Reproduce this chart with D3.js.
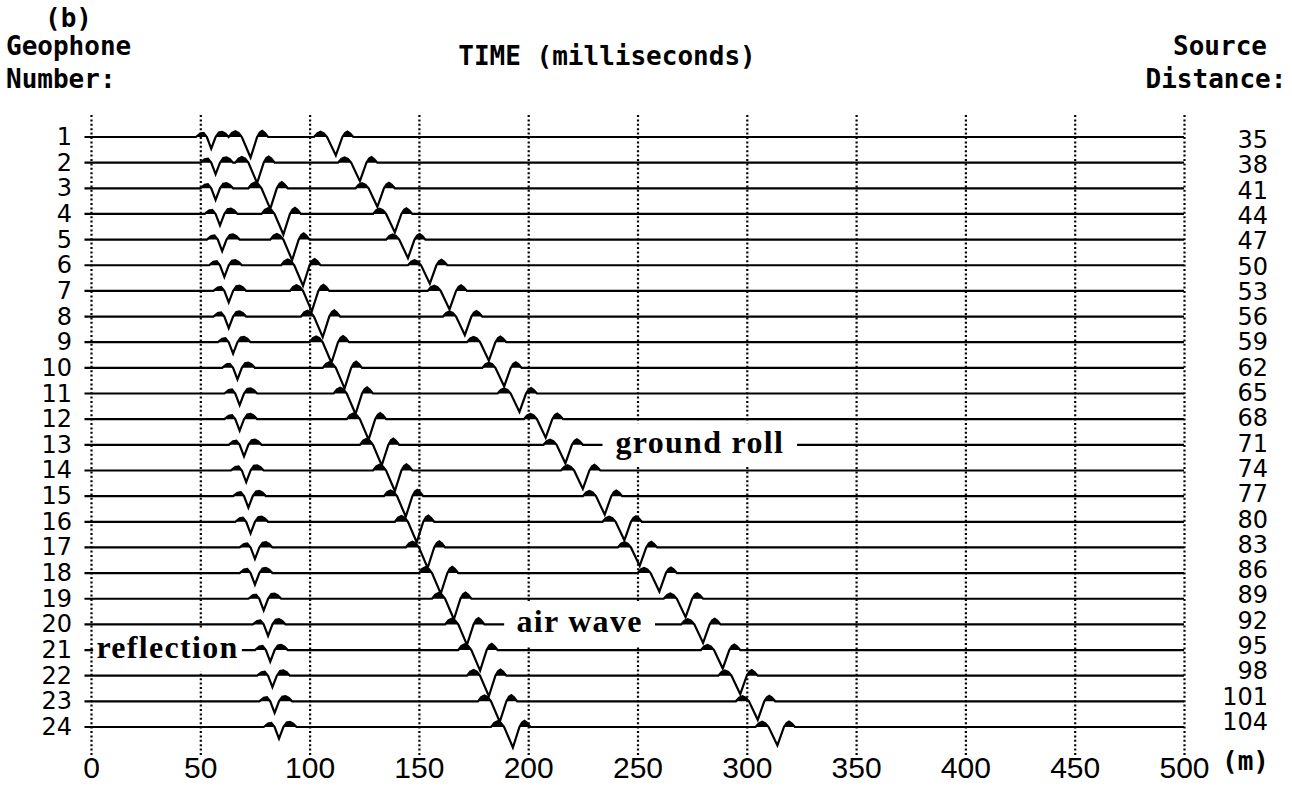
<!DOCTYPE html>
<meta charset="utf-8">
<script src="https://d3js.org/d3.v7.min.js"></script>
<style>
  body { margin: 0; background: #fff; }
  .hdr { font-family: "DejaVu Sans Mono", monospace; font-weight: bold; font-size: 26px; fill: #000; }
  .num { font-family: "DejaVu Sans", sans-serif; font-size: 24px; fill: #000; }
  .ann { font-family: "Liberation Serif", serif; font-weight: bold; font-size: 32px; letter-spacing: 1.3px; fill: #000; }
</style>
<div id="my_dataviz"></div>
<script>

// geophone numbers (rows) and source distances (m)
var geophones = [1,2,3,4,5,6,7,8,9,10,11,12,13,14,15,16,17,18,19,20,21,22,23,24];
var distances = [35,38,41,44,47,50,53,56,59,62,65,68,71,74,77,80,83,86,89,92,95,98,101,104];
var timeTicks = [0,50,100,150,200,250,300,350,400,450,500];

// trough time (ms) of each event on each trace
var reflectionTime = [55,57,57,59,60,61,63,63,65,67,68,68,70,71,72,73,75,75,79,81,82,83,84,86];
var airWaveTime    = [73,76,82,88,92,97,101,106,110,116,121,127,133,139,144,149,154,160,166,172,178,182,187,193];
var groundRollTime = [112,123,131,139,145,155,164,171,182,189,196,208,217,225,235,244,251,260,272,280,289,297,305,314];

// relative trough amplitude of each event (1 = one trace spacing)
var eventAmp = {reflection: 0.45, air: 0.8, ground: 0.72};

// wavelet shapes: [time offset ms, relative amplitude]
var smallWavelet = [[-7,0],[-5,0.3],[-3.5,0.35],[-2,0],[0,-1],[2,0],[3.5,0.4],[5,0.45],[6.5,0.3],[8,0]];
var bigWavelet   = [[-10,0],[-8.5,0.2],[-7,0.28],[-5.5,0.2],[-4,0],[0,-1],[3,0],[4.2,0.22],[5.3,0.3],[6.5,0.2],[8,0]];

// annotation labels: text, trace, time span of the break in the trace
var annText  = ["ground roll", "air wave", "reflection"];
var annTrace = [13, 20, 21];
var annFrom  = [234, 189, 1];
var annTo    = [323, 258, 69];

var W = 1292, H = 793;
var svg = d3.select("#my_dataviz").append("svg")
    .attr("width", W).attr("height", H);

var x = d3.scaleLinear().domain([0, 500]).range([91, 1184]);
var y = d3.scalePoint().domain(geophones).range([137, 727]);
var spacing = y.step();
var amp = d3.scaleLinear().domain([0, 1]).range([0, -spacing]);

// dotted vertical grid + time labels
var gridTop = 113, gridBottom = 755;
var xAxis = svg.append("g")
    .attr("transform", "translate(0," + gridBottom + ")")
    .call(d3.axisBottom(x).tickValues(timeTicks).tickSize(-(gridBottom - gridTop)).tickPadding(2));
xAxis.select(".domain").remove();
xAxis.selectAll(".tick line")
    .attr("stroke", "#000").attr("stroke-width", 2.2).attr("stroke-dasharray", "2,2.4");
xAxis.selectAll(".tick text")
    .attr("fill", "#000")
    .style("font-family", "'Liberation Sans', sans-serif")
    .style("font-size", "30px");

// traces
var line = d3.line().x(function(d) { return x(d[0]); }).y(function(d) { return d[1]; });
var area = d3.area().x(function(d) { return x(d[0]); })
    .y0(function(d) { return d[2]; })
    .y1(function(d) { return Math.min(d[1], d[2]); });

geophones.forEach(function(g, i) {
  var base = y(g);
  var events = [
    {t: reflectionTime[i], a: eventAmp.reflection, w: smallWavelet},
    {t: airWaveTime[i],    a: eventAmp.air,        w: bigWavelet},
    {t: groundRollTime[i], a: eventAmp.ground,     w: bigWavelet}
  ];
  var pts = [[-3, base, base]];
  events.forEach(function(e) {
    e.w.forEach(function(p) {
      pts.push([e.t + p[0], base + amp(p[1] * e.a), base]);
    });
  });
  pts.push([500, base, base]);
  pts.sort(function(a, b) { return a[0] - b[0]; });

  svg.append("path").datum(pts)
    .attr("d", area).attr("fill", "#000");
  svg.append("path").datum(pts)
    .attr("d", line).attr("fill", "none")
    .attr("stroke", "#000").attr("stroke-width", 2.2);
});

// annotation labels breaking their trace
annText.forEach(function(t, i) {
  var base = y(annTrace[i]);
  svg.append("rect")
    .attr("x", x(annFrom[i])).attr("y", base - spacing + 4)
    .attr("width", x(annTo[i]) - x(annFrom[i]))
    .attr("height", 2 * spacing - 8)
    .attr("fill", "#fff");
  svg.append("text").attr("class", "ann")
    .attr("x", (x(annFrom[i]) + x(annTo[i])) / 2)
    .attr("y", base + 8)
    .attr("text-anchor", "middle")
    .text(t);
});

// geophone numbers (left)
svg.append("g").selectAll("text").data(geophones).enter().append("text")
    .attr("class", "num")
    .attr("x", 72).attr("y", function(d) { return y(d) + 8; })
    .attr("text-anchor", "end")
    .text(function(d) { return d; });

// source distances (right)
var yR = d3.scalePoint().domain(distances).range([148, 730]);
svg.append("g").selectAll("text").data(distances).enter().append("text")
    .attr("class", "num")
    .attr("x", 1268).attr("y", function(d) { return yR(d); })
    .attr("text-anchor", "end")
    .text(function(d) { return d; });

// headers
svg.append("text").attr("class", "hdr").attr("x", 45).attr("y", 27).text("(b)");
svg.append("text").attr("class", "hdr").attr("x", 6).attr("y", 55).text("Geophone");
svg.append("text").attr("class", "hdr").attr("x", 6).attr("y", 88).text("Number:");
svg.append("text").attr("class", "hdr").attr("x", 607).attr("y", 65)
    .attr("text-anchor", "middle").text("TIME (milliseconds)");
svg.append("text").attr("class", "hdr").attr("x", 1220).attr("y", 55)
    .attr("text-anchor", "middle").text("Source");
svg.append("text").attr("class", "hdr").attr("x", 1216).attr("y", 88)
    .attr("text-anchor", "middle").text("Distance:");
svg.append("text").attr("class", "hdr").attr("x", 1222).attr("y", 770).text("(m)");

</script>
